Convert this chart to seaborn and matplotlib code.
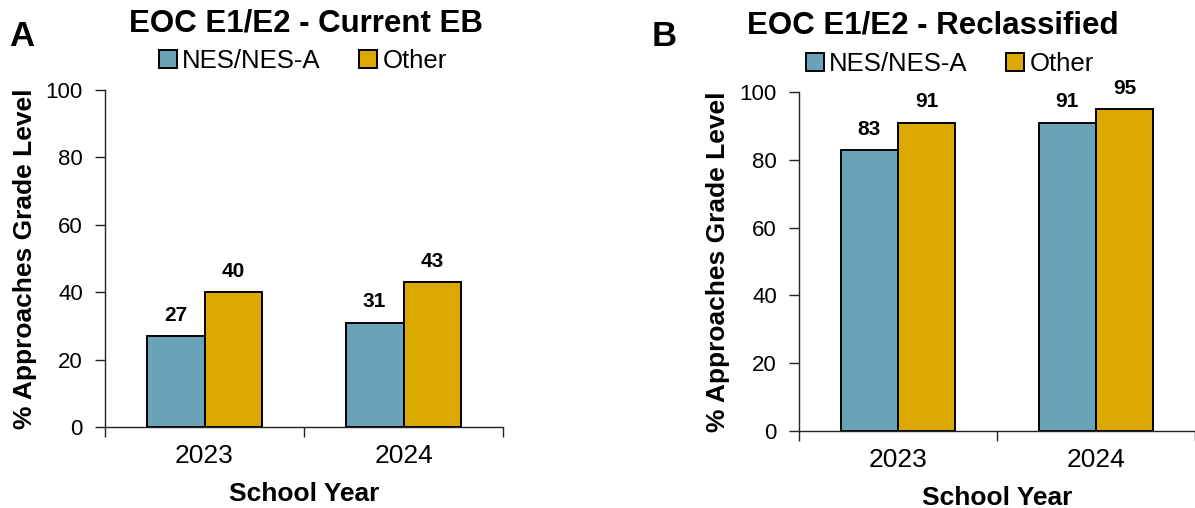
import matplotlib
matplotlib.use("Agg")
import matplotlib.pyplot as plt
import seaborn as sns
import pandas as pd

years = ["2023", "2024"]
groups = ["NES/NES-A", "Other"]
current_nes = [27, 31]
current_other = [40, 43]
reclass_nes = [83, 91]
reclass_other = [91, 95]
y_ticks = [0, 20, 40, 60, 80, 100]

palette = {"NES/NES-A": "#68A3B8", "Other": "#DBA900"}

sns.set_theme(style="white")
plt.rcParams["font.family"] = ["Liberation Sans", "DejaVu Sans"]
plt.rcParams["text.color"] = "black"
plt.rcParams["axes.labelcolor"] = "black"
plt.rcParams["xtick.color"] = "black"
plt.rcParams["ytick.color"] = "black"

W, H = 1195, 508
fig = plt.figure(figsize=(W / 100, H / 100), dpi=100)


def frame(nes, other):
    return pd.DataFrame({
        "year": years * 2,
        "group": [groups[0]] * len(years) + [groups[1]] * len(years),
        "value": list(nes) + list(other),
    })


def panel(rect, nes, other, title, title_xy, legend_xy, letter, letter_xy,
          ylabel_x):
    ax = fig.add_axes(rect)
    df = frame(nes, other)
    sns.barplot(data=df, x="year", y="value", hue="group", hue_order=groups,
                order=years, palette=palette, saturation=1, width=0.58, gap=0,
                edgecolor="black", linewidth=1.4, ax=ax, errorbar=None)
    handles, labels = ax.get_legend_handles_labels()
    if ax.get_legend() is not None:
        ax.get_legend().remove()
    for cont in ax.containers:
        ax.bar_label(cont, fmt="%d", padding=8, fontsize=15,
                     fontweight="bold", color="black", clip_on=False)
    ax.set_ylim(0, 100)
    ax.set_xlim(-0.5, 1.5)
    ax.set_yticks(y_ticks)
    ax.set_yticklabels([str(t) for t in y_ticks], fontsize=16)
    ax.tick_params(axis="y", direction="out", length=7, width=1,
                   color="#222222", left=True, pad=9)
    ax.tick_params(axis="x", which="major", length=0, labelsize=19, pad=12)
    ax.set_xticks([-0.5, 0.5, 1.5], minor=True)
    ax.tick_params(axis="x", which="minor", direction="out", length=7,
                   width=1, color="#222222", bottom=True)
    for side in ["top", "right"]:
        ax.spines[side].set_visible(False)
    for side in ["left", "bottom"]:
        ax.spines[side].set_color("#222222")
        ax.spines[side].set_linewidth(1)
    ax.set_xlabel("School Year", fontsize=19, fontweight="bold")
    ax.set_ylabel("% Approaches Grade Level", fontsize=19, fontweight="bold")
    ax.xaxis.set_label_coords(0.5, -0.163)
    ax.yaxis.set_label_coords(ylabel_x, 0.5)
    fig.text(title_xy[0] / W, 1 - title_xy[1] / H, title, fontsize=22.5,
             fontweight="bold", ha="center", va="center")
    fig.text(letter_xy[0] / W, 1 - letter_xy[1] / H, letter, fontsize=25,
             fontweight="bold", ha="center", va="center")
    fig.legend(handles, labels, loc="center",
               bbox_to_anchor=(legend_xy[0] / W, 1 - legend_xy[1] / H),
               ncol=2, frameon=False, fontsize=18.5, handlelength=0.7,
               handleheight=0.7, handletextpad=0.2, columnspacing=1.5,
               borderaxespad=0, borderpad=0)
    return ax


panel([105 / W, 1 - 427 / H, 398 / W, 337 / H], current_nes, current_other,
      "EOC E1/E2 - Current EB", (306, 23), (303, 61), "A", (22, 36), -0.17)
panel([799 / W, 1 - 431 / H, 396 / W, 339 / H], reclass_nes, reclass_other,
      "EOC E1/E2 - Reclassified", (933, 26), (950, 64), "B", (664, 37), -0.175)

fig.savefig("out.png", dpi=100)
